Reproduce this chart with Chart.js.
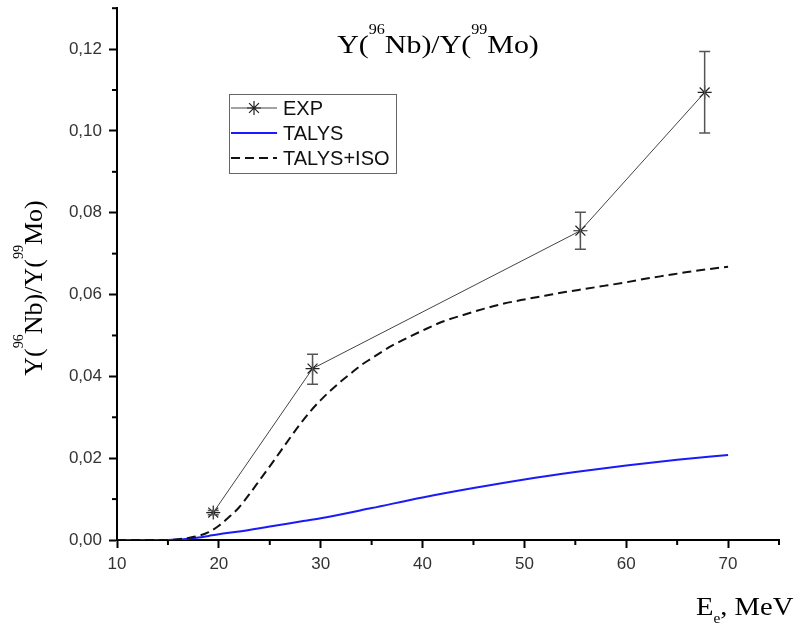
<!DOCTYPE html>
<html>
<head>
<meta charset="utf-8">
<script src="https://cdn.jsdelivr.net/npm/chart.js@4.4.1/dist/chart.umd.min.js"></script>
<style>
  html, body { margin: 0; padding: 0; background: #fff; }
</style>
</head>
<body>
<canvas id="graph" width="804" height="628"></canvas>
<script>
// measured ratio Y(96Nb)/Y(99Mo), with error bar ends
const expEnergy = [19.45, 29.2, 55.5, 67.7]
const expRatio = [0.0067, 0.0419, 0.0756, 0.1094]
const expErrLow = [0.0062, 0.0381, 0.0711, 0.0995]
const expErrHigh = [0.0072, 0.0454, 0.0801, 0.1194]

// TALYS calculation
const talysEnergy = [10, 12, 14, 15, 16, 17, 18, 19, 20, 22, 25, 28, 30, 35, 40, 45, 50, 55, 60, 65, 70]
const talysRatio = [0, 0, 0, 0, 0.0001, 0.0003, 0.0006, 0.0010, 0.0014, 0.0021, 0.0033, 0.0045, 0.0053,
  0.0078, 0.0104, 0.0127, 0.0148, 0.0166, 0.0182, 0.0196, 0.0208]

// TALYS + isomer
const isoEnergy = [10, 12, 14, 15, 16, 17, 18, 19, 20, 21, 22, 23, 24, 25, 26, 27, 28, 29, 30, 31, 32, 33, 34,
  35, 36, 37, 38, 40, 42, 44, 46, 48, 50, 52, 54, 56, 58, 60, 62, 64, 66, 68, 70]
const isoRatio = [0, 0, 0, 0, 0.0002, 0.0005, 0.0010, 0.0019, 0.0035, 0.0056, 0.0080, 0.0112, 0.0146, 0.0180,
  0.0215, 0.0250, 0.0284, 0.0315, 0.0342, 0.0366, 0.0388, 0.0408, 0.0428, 0.0444, 0.0460, 0.0475, 0.0488,
  0.0512, 0.0534, 0.0550, 0.0565, 0.0578, 0.0588, 0.0597, 0.0606, 0.0614, 0.0622, 0.0630, 0.0639, 0.0647,
  0.0655, 0.0662, 0.0668]

const xMinorTicks = [15, 25, 35, 45, 55, 65, 75]
const yMinorTicks = [0.01, 0.03, 0.05, 0.07, 0.09, 0.11, 0.13]

const seriesLabels = ['EXP', 'TALYS', 'TALYS+ISO']

const SERIF = '"Times New Roman", "Liberation Serif", serif'
const SANS = 'Arial, "Liberation Sans", sans-serif'

const toPoints = (xs, ys) => xs.map((x, i) => ({ x: x, y: ys[i] }))

// draw text with super/subscripts, parts = [[text, 'sup'|'sub'|'']]
function drawRich(ctx, parts, x, y, size, align) {
  const big = size + 'px ' + SERIF
  const small = Math.round(size * 0.52) + 'px ' + SERIF
  let w = 0
  const widths = parts.map(p => {
    ctx.font = p[1] ? small : big
    const pw = ctx.measureText(p[0]).width
    w += pw
    return pw
  })
  let cx = align === 'center' ? x - w / 2 : x
  parts.forEach((p, i) => {
    ctx.font = p[1] ? small : big
    let dy = 0
    if (p[1] === 'sup') dy = -size * 0.72
    if (p[1] === 'sub') dy = size * 0.3
    ctx.fillText(p[0], cx, y + dy)
    cx += widths[i]
  })
}

const ratioParts = [['Y(', ''], ['96', 'sup'], ['Nb)/Y(', ''], ['99', 'sup'], ['Mo)', '']]

const axisTexts = {
  id: 'axisTexts',
  afterDraw(chart) {
    const ctx = chart.ctx
    ctx.save()
    ctx.fillStyle = '#000'
    ctx.textBaseline = 'alphabetic'
    ctx.textAlign = 'left'

    // title
    ctx.save()
    ctx.translate(438, 53)
    ctx.scale(1.15, 1)
    drawRich(ctx, ratioParts, 0, 0, 26, 'center')
    ctx.restore()

    // y title
    ctx.save()
    ctx.translate(42, 288)
    ctx.rotate(-Math.PI / 2)
    drawRich(ctx, ratioParts, 0, 0, 26, 'center')
    ctx.restore()

    // x title
    ctx.save()
    ctx.translate(696, 615)
    ctx.scale(1.1, 1)
    drawRich(ctx, [['E', ''], ['e', 'sub'], [', MeV', '']], 0, 0, 26, 'left')
    ctx.restore()

    ctx.restore()
  }
}

const minorTicks = {
  id: 'minorTicks',
  afterDraw(chart) {
    const { ctx, chartArea, scales } = chart
    ctx.save()
    ctx.strokeStyle = '#000'
    ctx.lineWidth = 2
    xMinorTicks.forEach(v => {
      const p = scales.x.getPixelForValue(v)
      ctx.beginPath()
      ctx.moveTo(p, chartArea.bottom)
      ctx.lineTo(p, chartArea.bottom + 5)
      ctx.stroke()
    })
    yMinorTicks.forEach(v => {
      const p = scales.y.getPixelForValue(v)
      ctx.beginPath()
      ctx.moveTo(chartArea.left - 5, p)
      ctx.lineTo(chartArea.left, p)
      ctx.stroke()
    })
    ctx.restore()
  }
}

const errorBars = {
  id: 'errorBars',
  afterDatasetsDraw(chart) {
    const { ctx, scales } = chart
    ctx.save()
    ctx.strokeStyle = '#555'
    ctx.lineWidth = 1.5
    expEnergy.forEach((e, i) => {
      const px = scales.x.getPixelForValue(e)
      const lo = scales.y.getPixelForValue(expErrLow[i])
      const hi = scales.y.getPixelForValue(expErrHigh[i])
      ctx.beginPath()
      ctx.moveTo(px, lo)
      ctx.lineTo(px, hi)
      ctx.moveTo(px - 5.5, lo)
      ctx.lineTo(px + 5.5, lo)
      ctx.moveTo(px - 5.5, hi)
      ctx.lineTo(px + 5.5, hi)
      ctx.stroke()
    })
    ctx.restore()
  }
}

const legendBox = {
  id: 'legendBox',
  afterDraw(chart) {
    const ctx = chart.ctx
    const left = 229, top = 94, w = 167, h = 79
    ctx.save()
    ctx.strokeStyle = '#666'
    ctx.lineWidth = 1
    ctx.strokeRect(left + 0.5, top + 0.5, w, h)
    ctx.font = '20px ' + SANS
    ctx.textBaseline = 'middle'
    ctx.textAlign = 'left'
    ctx.fillStyle = '#111'
    chart.data.datasets.forEach((ds, i) => {
      const y = top + 14 + i * 25
      ctx.save()
      ctx.strokeStyle = ds.borderColor
      ctx.lineWidth = ds.borderWidth
      ctx.setLineDash(ds.borderDash || [])
      ctx.beginPath()
      ctx.moveTo(left + 2, y)
      ctx.lineTo(left + 48, y)
      ctx.stroke()
      ctx.restore()
      if (ds.pointRadius > 0) {
        ctx.save()
        ctx.strokeStyle = ds.pointBorderColor
        ctx.lineWidth = ds.pointBorderWidth
        Chart.helpers.drawPoint(ctx, { pointStyle: ds.pointStyle, radius: ds.pointRadius, borderWidth: ds.pointBorderWidth }, left + 25, y)
        ctx.restore()
      }
      ctx.fillText(ds.label, left + 54, y + 1)
    })
    ctx.restore()
  }
}

const ctx = document.getElementById('graph').getContext('2d')

const tickFont = { family: SANS, size: 17 }

new Chart(ctx, {
  type: 'scatter',
  data: {
    datasets: [
      {
        label: seriesLabels[0],
        data: toPoints(expEnergy, expRatio),
        showLine: true,
        borderColor: '#444',
        borderWidth: 1,
        pointStyle: 'star',
        pointRadius: 7,
        pointBorderColor: '#222',
        pointBorderWidth: 1.2,
        pointBackgroundColor: '#222',
        order: 0,
      },
      {
        label: seriesLabels[1],
        data: toPoints(talysEnergy, talysRatio),
        showLine: true,
        borderColor: '#1a1aff',
        borderWidth: 2,
        pointRadius: 0,
        cubicInterpolationMode: 'monotone',
        order: 2,
      },
      {
        label: seriesLabels[2],
        data: toPoints(isoEnergy, isoRatio),
        showLine: true,
        borderColor: '#111',
        borderWidth: 2,
        borderDash: [9, 5],
        pointRadius: 0,
        cubicInterpolationMode: 'monotone',
        order: 1,
      },
    ],
  },
  options: {
    responsive: false,
    animation: false,
    layout: { padding: { top: 6, right: 25, left: 0, bottom: 0 } },
    plugins: {
      legend: { display: false },
      tooltip: { enabled: false },
    },
    scales: {
      x: {
        type: 'linear',
        min: 10,
        max: 75,
        afterFit: s => {
          s.height = 88
          s.paddingLeft = 0
          s.paddingRight = 0
        },
        ticks: {
          stepSize: 10,
          includeBounds: false,
          color: '#333',
          font: tickFont,
          padding: 6,
          maxRotation: 0,
        },
        grid: { drawOnChartArea: false, drawTicks: true, tickLength: 8, tickWidth: 2, tickColor: '#000' },
        border: { display: true, color: '#000', width: 2 },
      },
      y: {
        type: 'linear',
        min: 0,
        max: 0.13,
        afterFit: s => {
          s.width = 117
          s.paddingTop = 0
          s.paddingBottom = 0
        },
        ticks: {
          stepSize: 0.02,
          includeBounds: false,
          color: '#333',
          font: tickFont,
          padding: 7,
          callback: v => v.toFixed(2).replace('.', ','),
        },
        grid: { drawOnChartArea: false, drawTicks: true, tickLength: 8, tickWidth: 2, tickColor: '#000' },
        border: { display: true, color: '#000', width: 2 },
      },
    },
  },
  plugins: [errorBars, minorTicks, legendBox, axisTexts],
})
</script>
</body>
</html>
